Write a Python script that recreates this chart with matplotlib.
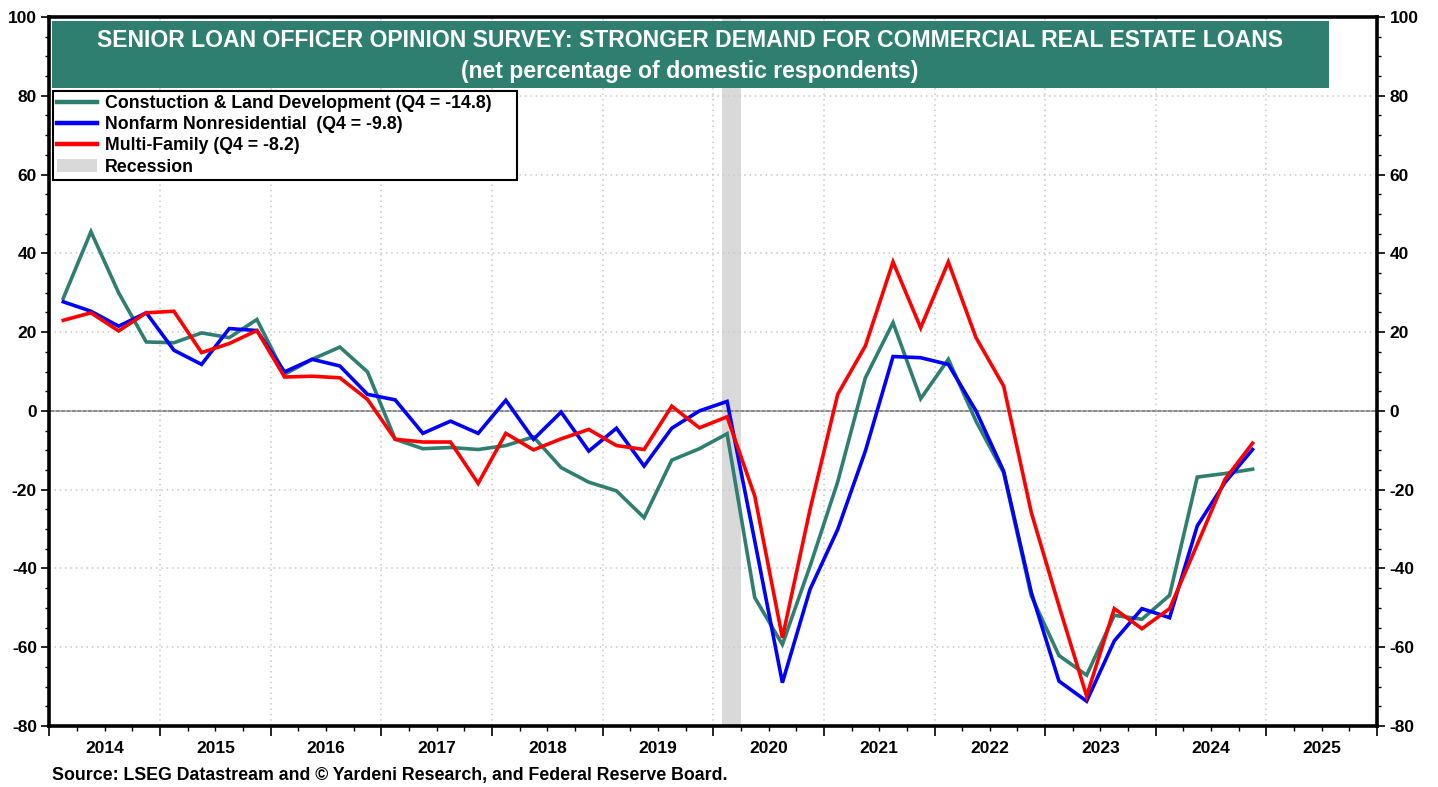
import matplotlib
matplotlib.use("Agg")
import matplotlib.pyplot as plt
import matplotlib.transforms as mtransforms
from matplotlib.lines import Line2D
from matplotlib.patches import Patch, Rectangle
from matplotlib.ticker import MultipleLocator, NullFormatter
import numpy as np

plt.rcParams['font.family'] = ['Liberation Sans', 'DejaVu Sans']
plt.rcParams['font.weight'] = 'bold'
plt.rcParams['axes.unicode_minus'] = False

# ---------------- data ----------------
start_year = 2014
n_quarters = 44  # 2014Q1 .. 2024Q4

construction = [28.6, 45.5, 30.0, 17.5, 17.3, 19.8, 18.6, 23.2, 9.3, 13.1, 16.2, 9.9,
                -7.2, -9.6, -9.3, -9.8, -8.8, -6.6, -14.4, -18.1, -20.3, -27.1, -12.5, -9.6,
                -5.8, -47.4, -59.3, -39.4, -18.0, 8.4, 22.4, 3.1, 13.1, -2.6, -15.7, -47.0,
                -62.1, -67.1, -51.9, -52.9, -46.8, -16.8, -15.9, -14.8]
nonfarm = [27.7, 25.3, 21.5, 24.9, 15.4, 11.8, 20.9, 20.4, 9.9, 13.1, 11.4, 4.2,
           2.8, -5.7, -2.6, -5.7, 2.7, -7.2, -0.3, -10.2, -4.4, -14.0, -4.4, 0.0,
           2.4, -33.0, -69.0, -45.3, -30.1, -10.2, 13.8, 13.5, 11.8, 0.0, -15.3, -46.1,
           -68.6, -73.7, -58.4, -50.2, -52.5, -29.2, -18.2, -9.8]
multifamily = [23.0, 24.9, 20.3, 24.9, 25.3, 14.8, 17.1, 20.4, 8.6, 8.8, 8.4, 2.9,
               -7.2, -7.9, -7.9, -18.4, -5.7, -9.9, -7.1, -4.7, -8.8, -9.8, 1.2, -4.3,
               -1.5, -21.6, -57.6, -25.0, 4.2, 16.5, 37.8, 21.1, 37.8, 18.6, 6.3, -25.8,
               -49.5, -72.4, -50.2, -55.3, -50.2, -33.9, -17.4, -8.2]

labels = ["Constuction & Land Development (Q4 = -14.8)",
          "Nonfarm Nonresidential  (Q4 = -9.8)",
          "Multi-Family (Q4 = -8.2)",
          "Recession"]
colors = ["#2E7F70", "#0000FF", "#FF0000", "#D9D9D9"]
recession = (2020 + 1 / 12, 2020 + 3 / 12)
years = list(range(2014, 2026))
title1 = "SENIOR LOAN OFFICER OPINION SURVEY: STRONGER DEMAND FOR COMMERCIAL REAL ESTATE LOANS"
title2 = "(net percentage of domestic respondents)"
source = "Source: LSEG Datastream and \u00a9 Yardeni Research, and Federal Reserve Board."

# survey dates (mid-second month of each quarter), decimal years
quarter_idx = np.arange(n_quarters)
xdates = start_year + quarter_idx * 0.25 + 0.125

# ---------------- figure ----------------
fig = plt.figure(figsize=(14.38, 7.87), dpi=100)
ax = fig.add_axes([0.0344, 0.0775, 0.9232, 0.9009])

ax.set_xlim(2014, 2026)
ax.set_ylim(-80, 100)

# grid
ax.set_yticks(np.arange(-80, 101, 20))
ax.yaxis.set_minor_locator(MultipleLocator(5))
ax.set_xticks(np.arange(2014, 2027, 1))
ax.xaxis.set_minor_locator(MultipleLocator(0.25))
ax.xaxis.set_major_formatter(NullFormatter())
ax.grid(True, which='major', color='#C8C8C8', linestyle=(0, (1, 2.5)), linewidth=1.1)
ax.axhline(0, color='#808080', linewidth=1.3, zorder=1.5)

ax.axvspan(recession[0], recession[1], color=colors[3], lw=0, zorder=1)

ax.plot(xdates, construction, color=colors[0], lw=2.6, zorder=3, solid_joinstyle='miter')
ax.plot(xdates, nonfarm, color=colors[1], lw=2.6, zorder=4, solid_joinstyle='miter')
ax.plot(xdates, multifamily, color=colors[2], lw=2.6, zorder=5, solid_joinstyle='miter')

# ticks
ax.tick_params(axis='y', which='major', direction='out', length=6, width=1.2,
               left=True, right=True, labelleft=True, labelright=True,
               labelsize=12.5, pad=3)
ax.tick_params(axis='y', which='minor', direction='out', length=3, width=1,
               left=True, right=True)
ax.tick_params(axis='x', which='major', direction='out', length=7, width=1.2)
ax.tick_params(axis='x', which='minor', direction='out', length=3.5, width=1)
for lab in ax.get_yticklabels():
    lab.set_fontweight('bold')

trans = mtransforms.blended_transform_factory(ax.transData, ax.transAxes)
for y in years:
    ax.text(y + 0.5, -0.032, str(y), transform=trans, ha='center', va='center',
            fontsize=12.5, fontweight='bold')

for sp in ax.spines.values():
    sp.set_linewidth(2.6)
    sp.set_color('black')

# title box
ax.add_patch(Rectangle((0.0019, 0.8999), 0.9619, 0.0945, transform=ax.transAxes,
                       facecolor='#2E7F70', edgecolor='none', zorder=6))
ax.text(0.4824, 0.9665, title1, transform=ax.transAxes, ha='center', va='center',
        color='white', fontsize=16.6, fontweight='bold', zorder=7)
ax.text(0.4824, 0.9230, title2, transform=ax.transAxes, ha='center', va='center',
        color='white', fontsize=16.6, fontweight='bold', zorder=7)

# legend
handles = [Line2D([0], [0], color=colors[0], lw=3.2),
           Line2D([0], [0], color=colors[1], lw=3.2),
           Line2D([0], [0], color=colors[2], lw=3.2),
           Patch(facecolor=colors[3], edgecolor='none')]
leg = ax.legend(handles, labels, loc='upper left',
                bbox_to_anchor=(0.0026, 0.70, 0.3495, 0.1956), mode='expand',
                frameon=True, fancybox=False, edgecolor='black', framealpha=1,
                prop={'size': 12.8, 'weight': 'bold'}, handlelength=2.25,
                handleheight=0.75, handletextpad=0.45, labelspacing=0.24,
                borderpad=0.22, borderaxespad=0.0)
leg.get_frame().set_linewidth(1.5)
leg.set_zorder(8)

fig.text(0.036, 0.014, source, ha='left', va='center', fontsize=12.8, fontweight='bold')

fig.savefig("out.png", dpi=100)
